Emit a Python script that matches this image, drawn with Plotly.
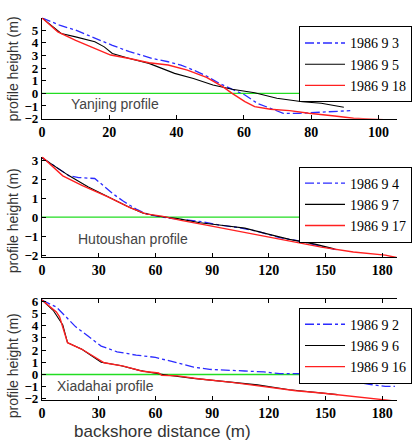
import plotly.graph_objects as go

# ---------------- data ----------------
# Yanjing profile
yj_93_x = [0, 5.2, 10, 16.6, 20.9, 26, 32.8, 37.5, 41.3, 45, 48.9, 52.7, 56.5, 60.3, 64, 67.9, 71.7, 76.4, 81.2, 87, 91.6]
yj_93_y = [5.97, 5.4, 5.0, 4.26, 3.8, 3.3, 2.76, 2.5, 2.24, 1.84, 1.37, 0.79, 0.3, -0.13, -0.79, -1.18, -1.58, -1.58, -1.53, -1.45, -1.37]
yj_95_x = [0, 5.7, 10, 15.7, 18.5, 20.9, 26, 31.8, 39.4, 45, 50.8, 56.5, 63.2, 69.8, 77.4, 83, 89.7]
yj_95_y = [5.97, 4.74, 4.47, 4.08, 3.68, 3.16, 2.76, 2.37, 1.58, 1.18, 0.66, 0.32, 0.05, -0.39, -0.66, -0.79, -1.1]
yj_918_x = [0, 4.7, 10, 16.6, 20.4, 26, 31.8, 37.5, 43.2, 48.9, 53.7, 56.5, 60.3, 63.2, 67.9, 73.6, 79.3, 87, 92.6, 98.3, 103]
yj_918_y = [5.97, 4.87, 4.2, 3.42, 3.03, 2.76, 2.42, 2.24, 1.84, 1.26, 0.53, 0.0, -0.66, -1.05, -1.26, -1.37, -1.58, -1.79, -1.97, -2.05, -2.1]

# Hutoushan profile
ht_94_x = [0, 9.3, 14.4, 19.4, 27.9, 32.9, 37.2, 43.1, 49.8, 56.6, 66.7, 78.5, 85.3, 93.8, 104, 114, 125.8, 136, 147.8, 156.3]
ht_94_y = [3.12, 2.5, 2.17, 2.08, 2.03, 1.62, 1.25, 0.83, 0.42, 0.12, -0.05, -0.17, -0.25, -0.42, -0.55, -0.75, -1.08, -1.25, -1.55, -1.72]
ht_97_x = [0, 9.3, 14.4, 24.5, 34.6, 44.8, 53.2, 61.7, 71.8, 83.6, 97.1, 107.3, 119.1, 130.9, 144.4, 154.6]
ht_97_y = [3.12, 2.5, 2.17, 1.58, 1.08, 0.58, 0.22, 0.05, -0.08, -0.3, -0.45, -0.58, -0.88, -1.17, -1.42, -1.67]
ht_917_x = [0, 11, 21.1, 34.6, 46.5, 54.9, 63.3, 73.5, 87, 100.5, 114, 130.9, 147.8, 164.7, 181.6, 187.5]
ht_917_y = [3.17, 2.17, 1.67, 1.08, 0.5, 0.17, 0.05, -0.17, -0.42, -0.67, -0.92, -1.25, -1.58, -1.83, -2.0, -2.12]

# Xiadahai profile
xd_92_x = [0, 7.6, 12.7, 17.7, 24.5, 31.3, 39.7, 49.8, 60, 70.1, 80.2, 88.7, 97.1, 107.3, 117.4, 125.8, 132.6, 141, 149.5, 156.3, 164.7, 173.1, 181.6, 186.7]
xd_92_y = [6.1, 5.53, 4.73, 3.93, 3.13, 2.33, 1.86, 1.59, 1.41, 1.01, 0.61, 0.42, 0.34, 0.29, 0.21, 0.07, 0.07, 0.07, -0.06, -0.32, -0.59, -0.8, -0.98, -0.98]
xd_96_x = [0, 5.9, 11, 13.5, 21.1, 31.3, 41.4, 51.5, 58.3, 66.7, 80.2, 97.1, 114, 130.9, 146.1, 156.3]
xd_96_y = [6.1, 5.27, 4.07, 2.61, 2.07, 1.01, 0.74, 0.34, 0.15, -0.06, -0.32, -0.59, -0.85, -1.25, -1.52, -1.65]
xd_916_x = [0, 7.6, 9.3, 13.5, 21.1, 32.9, 43.1, 53.2, 61.7, 63.3, 71.8, 83.6, 100.5, 117.4, 134.3, 147.8, 164.7, 178.2, 187.5]
xd_916_y = [6.1, 5.13, 4.73, 2.61, 2.07, 0.96, 0.69, 0.27, 0.13, -0.06, -0.11, -0.37, -0.64, -0.98, -1.33, -1.52, -1.78, -2.0, -2.18]

panels = [
    dict(name="Yanjing profile", xr=[0, 105.5], yr=[-2.02, 5.99], dx=20, dy=1,
         series=[("1986 9 3", yj_93_x, yj_93_y), ("1986 9 5", yj_95_x, yj_95_y), ("1986 9 18", yj_918_x, yj_918_y)]),
    dict(name="Hutoushan profile", xr=[0, 187.8], yr=[-2.1, 3.17], dx=30, dy=1,
         series=[("1986 9 4", ht_94_x, ht_94_y), ("1986 9 7", ht_97_x, ht_97_y), ("1986 9 17", ht_917_x, ht_917_y)]),
    dict(name="Xiadahai profile", xr=[0, 187.8], yr=[-2.1, 6.2], dx=30, dy=1,
         series=[("1986 9 2", xd_92_x, xd_92_y), ("1986 9 6", xd_96_x, xd_96_y), ("1986 9 16", xd_916_x, xd_916_y)]),
]

W, H = 412, 448
ML = 42
pix = [(13, 117), (156, 259), (302, 406)]   # plot area top/bottom in px
legend_px = [22, 166, 311]
label_px = [(118, 102), (137, 240), (108, 391)]
ytitle_px = [66, 222, 371]
styles = [dict(color="#2b2bff", width=1.3, dash="dashdot"),
          dict(color="black", width=1.1, dash="solid"),
          dict(color="#ff2020", width=1.4, dash="solid")]

SERIF = "Liberation Serif, Times New Roman, serif"
SANS = "Liberation Sans, Arial, sans-serif"

fig = go.Figure()
pw = W - ML

def px2x(p):
    return (p - ML) / pw

def py2y(p):
    return 1 - p / H

for i, P in enumerate(panels):
    k = "" if i == 0 else str(i + 1)
    xa, ya = "x" + k, "y" + k
    lg = "legend" + k
    fig.add_trace(go.Scatter(x=[P["xr"][0], P["xr"][1]], y=[0, 0], mode="lines",
                             line=dict(color="#22dd22", width=1.3), showlegend=False,
                             xaxis=xa, yaxis=ya, hoverinfo="skip"))
    for (nm, xs, ys), st in zip(P["series"], styles):
        fig.add_trace(go.Scatter(x=xs, y=ys, mode="lines", name=nm, line=st,
                                 xaxis=xa, yaxis=ya, legend=lg))
    top, bot = pix[i]
    axcommon = dict(showgrid=False, zeroline=False, showline=True, linecolor="black",
                    linewidth=1.2, ticks="inside", ticklen=4, tickcolor="black")
    fig.update_layout(**{
        "xaxis" + k: dict(domain=[0, 1], range=P["xr"], dtick=P["dx"], anchor=ya,
                          mirror=("ticks" if i == 2 else False),
                          tickfont=dict(family=SERIF, size=14, color="black", weight="bold"),
                          **axcommon),
        "yaxis" + k: dict(domain=[py2y(bot), py2y(top)], range=P["yr"], dtick=P["dy"],
                          anchor=xa, ticklabelstandoff=0,
                          tickfont=dict(family=SERIF, size=13, color="black", weight="bold"),
                          **axcommon),
        lg: dict(x=px2x(310), y=py2y(legend_px[i]), xanchor="left", yanchor="top",
                 bgcolor="white", bordercolor="black", borderwidth=1,
                 font=dict(family=SERIF, size=14, color="black"),
                 tracegroupgap=0, itemwidth=40),
    })
    lx, ly = label_px[i]
    fig.add_annotation(text=P["name"], x=px2x(lx), y=py2y(ly), xref="paper", yref="paper",
                       xanchor="center", yanchor="middle",
                       showarrow=False, font=dict(family=SANS, size=14, color="#444444"))
    fig.add_annotation(text="profile height (m)", x=px2x(12), y=py2y(ytitle_px[i]),
                       xref="paper", yref="paper", showarrow=False, textangle=-90,
                       xanchor="center", yanchor="middle", borderpad=0,
                       font=dict(family=SANS, size=14, color="#333333"))

fig.add_annotation(text="backshore distance (m)", x=px2x(168), y=py2y(438), xref="paper", yref="paper",
                   xanchor="center", yanchor="middle",
                   showarrow=False, font=dict(family=SANS, size=17, color="#333333"))

fig.update_layout(width=W, height=H, margin=dict(l=ML, r=0, t=0, b=0),
                  paper_bgcolor="white", plot_bgcolor="white", showlegend=True)

fig.write_html("out.html", config={"displayModeBar": False},
               post_script="document.body.style.margin='0';document.body.style.overflow='hidden';")
